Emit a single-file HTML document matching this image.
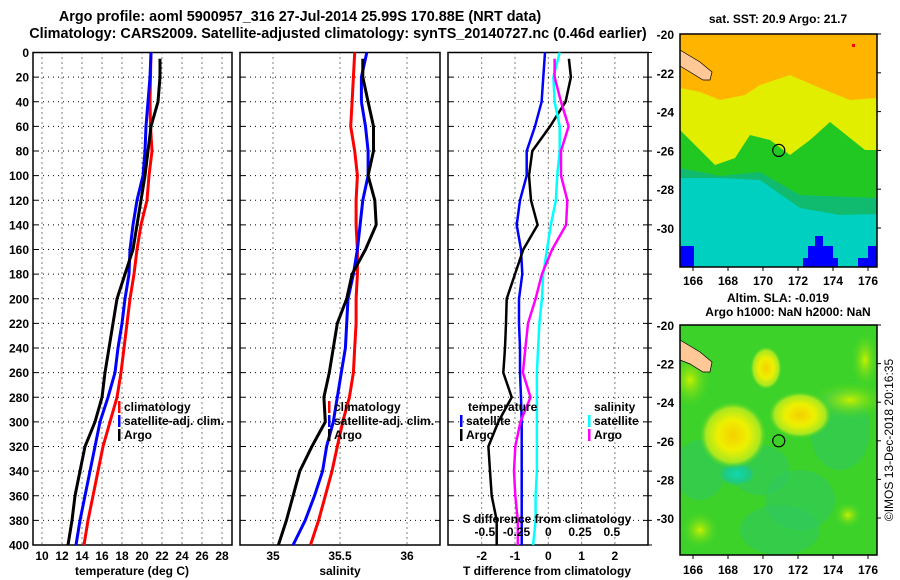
<!DOCTYPE html>
<html><head><meta charset="utf-8"><style>
body{margin:0;background:#fff;width:900px;height:580px;overflow:hidden}
svg{display:block;font-family:"Liberation Sans",sans-serif;font-weight:bold}
</style></head><body>
<svg id="c" width="900" height="580" xmlns="http://www.w3.org/2000/svg">
<defs>
<radialGradient id="gy"><stop offset="0" stop-color="#f4d000"/><stop offset="0.45" stop-color="#eef000"/><stop offset="0.8" stop-color="#a8e820"/><stop offset="1" stop-color="#3cd22a" stop-opacity="0"/></radialGradient>
<radialGradient id="gt"><stop offset="0" stop-color="#10d8b0"/><stop offset="0.6" stop-color="#20c880"/><stop offset="1" stop-color="#3cd22a" stop-opacity="0"/></radialGradient>
<radialGradient id="gl"><stop offset="0" stop-color="#c8f000"/><stop offset="1" stop-color="#3cd22a" stop-opacity="0"/></radialGradient>
<clipPath id="cm1"><rect x="680" y="34" width="197" height="233"/></clipPath>
<clipPath id="cm2"><rect x="680" y="325" width="197" height="230"/></clipPath>
</defs>
<text x="300" y="21" text-anchor="middle" font-size="14.4">Argo profile: aoml 5900957_316 27-Jul-2014 25.99S 170.88E (NRT data)</text>
<text x="338" y="38" text-anchor="middle" font-size="14.4">Climatology: CARS2009. Satellite-adjusted climatology: synTS_20140727.nc (0.46d earlier)</text>
<g id="g"></g>
</svg>
<script>
const depths=[0,20,40,60,80,100,120,140,160,180,200,220,240,260,280,300,320,340,360,380,400];
const tempClim=[20.9,20.85,20.8,20.85,21.0,20.7,20.5,19.9,19.5,19.2,18.8,18.5,18.2,17.9,17.5,16.8,16.1,15.6,15.1,14.6,14.2];
const tempSat=[20.9,20.8,20.6,20.4,20.3,20.1,19.5,19.1,18.8,18.7,18.3,18.0,17.6,17.3,16.6,15.8,15.3,14.8,14.3,13.8,13.4];
const tempArgo=[21.8,21.8,21.6,20.9,20.6,20.3,19.9,19.5,19.1,18.3,17.5,17.1,16.7,16.3,16.0,15.3,14.3,13.8,13.3,13.0,12.6];
const salClim=[35.61,35.60,35.59,35.58,35.61,35.63,35.62,35.62,35.63,35.63,35.62,35.62,35.61,35.60,35.57,35.52,35.48,35.44,35.39,35.34,35.28];
const salSat=[35.70,35.66,35.66,35.69,35.71,35.71,35.67,35.65,35.63,35.60,35.56,35.55,35.54,35.51,35.48,35.45,35.40,35.37,35.31,35.24,35.15];
const salArgo=[35.67,35.67,35.71,35.75,35.75,35.71,35.76,35.77,35.69,35.59,35.55,35.48,35.45,35.42,35.38,35.39,35.29,35.20,35.15,35.10,35.04];
const tdiffSat=[-0.1,-0.15,-0.2,-0.4,-0.65,-0.65,-0.85,-0.95,-0.82,-0.78,-0.88,-0.88,-0.85,-0.85,-0.82,-0.8,-0.8,-0.8,-0.8,-0.8,-0.8];
const tdiffArgo=[0.62,0.68,0.52,0.05,-0.48,-0.58,-0.52,-0.32,-0.75,-1.0,-1.25,-1.27,-1.3,-1.35,-1.1,-1.5,-1.8,-1.75,-1.7,-1.55,-1.55];
const sdiffSat=[0.09,0.04,0.05,0.09,0.09,0.07,0.06,0.02,-0.01,-0.04,-0.05,-0.07,-0.08,-0.09,-0.09,-0.09,-0.09,-0.09,-0.10,-0.10,-0.12];
const sdiffArgo=[0.05,0.05,0.10,0.16,0.10,0.10,0.15,0.14,0.03,-0.05,-0.10,-0.16,-0.18,-0.20,-0.14,-0.22,-0.26,-0.27,-0.26,-0.24,-0.24];
const depthTicks=[0,20,40,60,80,100,120,140,160,180,200,220,240,260,280,300,320,340,360,380,400];
const tempTicks=[10,12,14,16,18,20,22,24,26,28];
const salTicks=[35,35.5,36];
const tdTicks=[-2,-1,0,1,2];
const sdTicks=[-0.5,-0.25,0,0.25,0.5];
const lonTicks=[166,168,170,172,174,176];
const latTicks=[-20,-22,-24,-26,-28,-30];

const NS='http://www.w3.org/2000/svg';
const G=document.getElementById('g');
function el(t,a,p){const e=document.createElementNS(NS,t);for(const k in a)e.setAttribute(k,a[k]);(p||G).appendChild(e);return e;}
const Y0=52.5,Y1=545;
const yD=d=>Y0+d*(Y1-Y0)/400;
const xT=t=>42+(t-10)*10;
const xS=s=>273+(s-35)*134;
const xTd=t=>548.3+t*33.3;
const xSd=s=>548.3+s*127;
const mx=lon=>693+(lon-166)*17.5;
const my1=lat=>34+(-20-lat)*19.4;
const my2=lat=>325+(-20-lat)*19.3;

function panel(name,x0,x1,vx){
  const g=el('g',{});
  
  
  depthTicks.forEach(d=>{if(d>0&&d<400)el('line',{x1:x0,x2:x1,y1:yD(d),y2:yD(d),stroke:'#000','stroke-width':1,'stroke-dasharray':'1,4'},g);
    el('line',{x1:x0,x2:x0+5,y1:yD(d),y2:yD(d),stroke:'#000'},g);el('line',{x1:x1-5,x2:x1,y1:yD(d),y2:yD(d),stroke:'#000'},g);});
  vx.forEach(x=>el('line',{x1:x,x2:x,y1:Y0,y2:Y1,stroke:'#000','stroke-dasharray':'1,4'},g));
  el('rect',{x:x0,y:Y0,width:x1-x0,height:Y1-Y0,fill:'none',stroke:'#000','stroke-width':1.5},g);
  return g;
}
function line(name,vals,fx,color,w,skipFirst){
  const pts=vals.map((v,i)=>fx(v).toFixed(1)+','+yD(i==0&&skipFirst?5:depths[i]).toFixed(1)).join(' ');
  const p=el('polyline',{points:pts,fill:'none',stroke:color,'stroke-width':w});
  
  
}
function txt(name,x,y,s,anchor,size){const t=el('text',{x:x,y:y,'text-anchor':anchor||'start','font-size':size||12});t.textContent=s;
  
  return t;}

depthTicks.forEach(d=>txt('depth-tick-label',29,yD(d)+4.5,String(d),'end'));
panel('temperature-panel',33,232,tempTicks.map(xT));
line('temp-climatology-line',tempClim,xT,'#f00',3);
line('temp-satellite-line',tempSat,xT,'#00f',3);
line('temp-argo-line',tempArgo,xT,'#000',3,true);
tempTicks.forEach(t=>txt('temp-tick-label',xT(t),560,String(t),'middle'));
txt('temp-axis-title',132,575,'temperature (deg C)','middle');
panel('salinity-panel',240,440,salTicks.map(xS));
line('sal-climatology-line',salClim,xS,'#f00',3);
line('sal-satellite-line',salSat,xS,'#00f',3);
line('sal-argo-line',salArgo,xS,'#000',3,true);
salTicks.forEach(s=>txt('sal-tick-label',xS(s),560,String(s),'middle'));
txt('sal-axis-title',340,575,'salinity','middle');
function leg(x,y,c,label,nm){const r=el('rect',{x:x,y:y-10,width:2.5,height:12,fill:c});
  
  
  txt(nm,x+6,y,label);}
leg(118,411,'#f00','climatology','legend-climatology');leg(118,425,'#00f','satellite-adj. clim.','legend-satellite');leg(118,439,'#000','Argo','legend-argo');
leg(328,411,'#f00','climatology','legend2-climatology');leg(328,425,'#00f','satellite-adj. clim.','legend2-satellite');leg(328,439,'#000','Argo','legend2-argo');
panel('difference-panel',448,648,tdTicks.map(xTd));
line('tdiff-satellite-line',tdiffSat,xTd,'#00f',2.5);
line('tdiff-argo-line',tdiffArgo,xTd,'#000',2.5,true);
line('sdiff-satellite-line',sdiffSat,xSd,'#0ff',2.5);
line('sdiff-argo-line',sdiffArgo,xSd,'#f0f',2.5,true);
depthTicks.forEach(d=>el('line',{x1:648,x2:652,y1:yD(d),y2:yD(d),stroke:'#000'}));
tdTicks.forEach(t=>txt('tdiff-tick-label',xTd(t),560,String(t),'middle'));
txt('tdiff-axis-title',547,575,'T difference from climatology','middle');
sdTicks.forEach(s=>txt('sdiff-tick-label',xSd(s),536,String(s),'middle'));
txt('sdiff-axis-title',547,523,'S difference from climatology','middle');
txt('legend-temperature-heading',468,411,'temperature');
leg(460,425,'#00f','satellite','legend-tdiff-satellite');leg(460,439,'#000','Argo','legend-tdiff-argo');
txt('legend-salinity-heading',594,411,'salinity');
leg(588,425,'#0ff','satellite','legend-sdiff-satellite');leg(588,439,'#f0f','Argo','legend-sdiff-argo');

txt('sst-map-title',778,23,'sat. SST: 20.9 Argo: 21.7','middle');
const m1=el('g',{'clip-path':'url(#cm1)'});


el('rect',{x:680,y:34,width:197,height:233,fill:'#ffb400'},m1);
el('polygon',{points:'680,88 700,92 720,100 745,95 760,85 790,75 820,88 850,100 877,98 877,267 680,267',fill:'#e2ee00'},m1);
el('polygon',{points:'680,130 695,145 715,165 735,158 750,135 770,140 790,155 810,140 830,122 850,138 865,150 877,150 877,267 680,267',fill:'#22c822'},m1);
el('polygon',{points:'680,168 720,176 760,172 800,195 877,198 877,267 680,267',fill:'#10bb70'},m1);
el('polygon',{points:'680,178 720,178 760,180 800,208 840,215 877,214 877,267 680,267',fill:'#00d0c0'},m1);
[[680,246,14,21],[803,258,35,9],[808,246,25,12],[815,236,8,10],[868,246,9,21],[858,258,12,9]].forEach(r=>el('rect',{x:r[0],y:r[1],width:r[2],height:r[3],fill:'#0000ff'},m1));
el('rect',{x:852,y:44,width:3,height:3,fill:'#f00'},m1);
el('polygon',{points:'680,50 700,62 712,72 710,80 703,80 690,72 680,66',fill:'#ffc896',stroke:'#000','stroke-width':0.7},m1);
el('circle',{cx:mx(170.9),cy:my1(-26),r:6,fill:'none',stroke:'#000','stroke-width':1.2},m1);
el('rect',{x:680,y:34,width:197,height:233,fill:'none',stroke:'#000','stroke-width':1.5});
txt('sla-map-title',778,302,'Altim. SLA: -0.019','middle');
txt('sla-map-subtitle',788,316,'Argo h1000: NaN h2000: NaN','middle');
const m2=el('g',{'clip-path':'url(#cm2)'});


el('rect',{x:680,y:325,width:197,height:230,fill:'#3cd22a'},m2);
[[800,500,35,30],[760,470,30,25],[840,430,30,40],[700,470,25,30],[780,530,40,25]].forEach(c=>el('ellipse',{cx:c[0],cy:c[1],rx:c[2],ry:c[3],fill:'#30c860','opacity':0.6},m2));
el('ellipse',{cx:737,cy:474,rx:22,ry:14,fill:'url(#gt)'},m2);
[[690,380,22,30],[865,360,15,30],[848,515,15,14],[700,530,20,20],[850,400,40,20]].forEach(c=>el('ellipse',{cx:c[0],cy:c[1],rx:c[2],ry:c[3],fill:'url(#gl)'},m2));
el('ellipse',{cx:733,cy:435,rx:34,ry:34,fill:'url(#gy)'},m2);
el('ellipse',{cx:800,cy:415,rx:32,ry:24,fill:'url(#gy)'},m2);
el('ellipse',{cx:766,cy:368,rx:16,ry:22,fill:'url(#gy)'},m2);
el('polygon',{points:'680,340 700,352 712,362 710,372 703,372 690,364 680,360',fill:'#ffc896',stroke:'#000','stroke-width':0.7},m2);
el('circle',{cx:mx(170.9),cy:my2(-26),r:6,fill:'none',stroke:'#000','stroke-width':1.2},m2);
el('rect',{x:680,y:325,width:197,height:230,fill:'none',stroke:'#000','stroke-width':1.5});
latTicks.forEach(l=>{txt('sst-lat-label',674,my1(l)+5,String(l),'end');txt('sla-lat-label',674,my2(l)+5,String(l),'end');
  el('line',{x1:877,x2:881,y1:my1(l),y2:my1(l),stroke:'#000'});el('line',{x1:877,x2:881,y1:my2(l),y2:my2(l),stroke:'#000'});});
lonTicks.forEach(l=>{txt('sst-lon-label',mx(l),285,String(l),'middle');txt('sla-lon-label',mx(l),574,String(l),'middle');
  el('line',{x1:mx(l),x2:mx(l),y1:267,y2:271,stroke:'#000'});el('line',{x1:mx(l),x2:mx(l),y1:555,y2:559,stroke:'#000'});});
const cp=txt('copyright-stamp',0,0,'©IMOS 13-Dec-2018 20:16:35','middle',12);
cp.setAttribute('transform','translate(893,440) rotate(-90)');
cp.setAttribute('font-weight','normal');
</script>
</body></html>
